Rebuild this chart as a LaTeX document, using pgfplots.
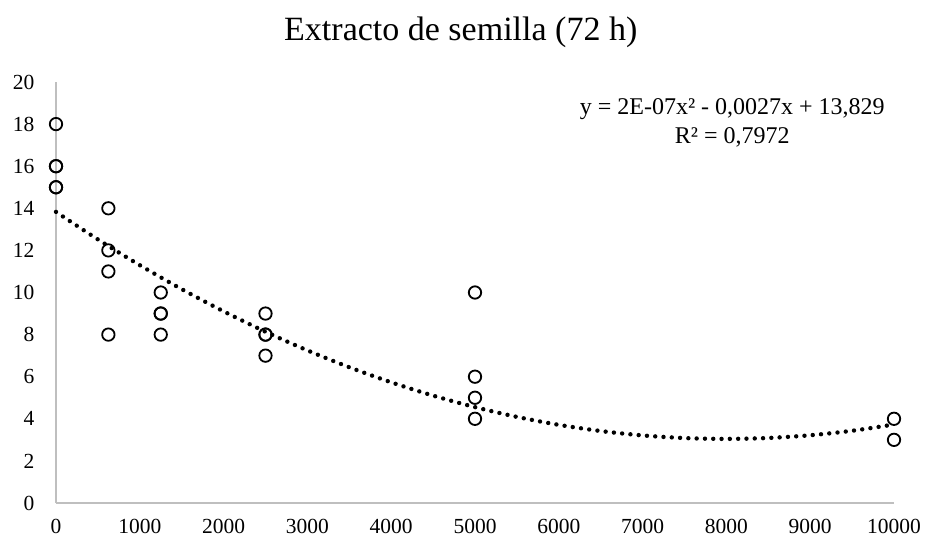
\documentclass[border=0pt]{standalone}
\usepackage{fontspec}
\setmainfont{Liberation Serif}
\usepackage{pgfplots}
\pgfplotsset{compat=1.18}

\begin{document}
\begin{tikzpicture}
\begin{axis}[
  at={(0,0)}, anchor=south west,
  scale only axis,
  width=838bp, height=421bp,
  xmin=0, xmax=10000, ymin=0, ymax=20,
  xtick={0,1000,...,10000},
  ytick={0,2,...,20},
  scaled x ticks=false,
  /pgf/number format/assume math mode=true,
  xticklabel style={/pgf/number format/1000 sep={}},
  tick label style={font=\fontsize{21.5bp}{24bp}\selectfont},
  yticklabel style={xshift=-18bp},
  xticklabel style={yshift=-15bp, inner sep=1bp},
  major tick length=0pt,
  axis x line*=bottom, axis y line*=left,
  axis line style={draw=black!25, line width=1.2bp},
  separate axis lines,
  x axis line style={-}, y axis line style={-},
  clip=false,
]
% Observations
\addplot[only marks, mark=o, mark size=6.2bp, mark options={line width=1.8bp, draw=black}]
coordinates {
  (0,18) (0,16) (0,16) (0,15) (0,15)
  (625,14) (625,12) (625,11) (625,8)
  (1250,10) (1250,9) (1250,9) (1250,8)
  (2500,9) (2500,8) (2500,8) (2500,7)
  (5000,10) (5000,6) (5000,5) (5000,4)
  (10000,4) (10000,3)
};
% Polynomial trend line (order 2)
\addplot[smooth, line width=4.4bp, line cap=round, dash pattern=on 0pt off 8.3bp, black]
coordinates {
  (0,13.829) (500,12.521) (1000,11.298) (1500,10.159) (2000,9.105)
  (2500,8.135) (3000,7.250) (3500,6.449) (4000,5.733) (4500,5.101)
  (5000,4.554) (5500,4.091) (6000,3.713) (6500,3.419) (7000,3.210)
  (7500,3.085) (8000,3.045) (8500,3.089) (9000,3.218) (9500,3.431)
  (10000,3.729)
};
\node[anchor=base, font=\fontsize{34bp}{38bp}\selectfont] at (rel axis cs:0.483,1.0974) {Extracto de semilla (72 h)};
\node[anchor=base, font=\fontsize{24bp}{26bp}\selectfont] at (rel axis cs:0.807,0.922)
  {y = 2E-07x² - 0,0027x + 13,829};
\node[anchor=base, font=\fontsize{24bp}{26bp}\selectfont] at (rel axis cs:0.807,0.855)
  {R² = 0,7972};
\end{axis}
\pgfresetboundingbox
\path[use as bounding box] (-56bp,-39bp) rectangle (873bp,503bp);
\end{tikzpicture}
\end{document}
